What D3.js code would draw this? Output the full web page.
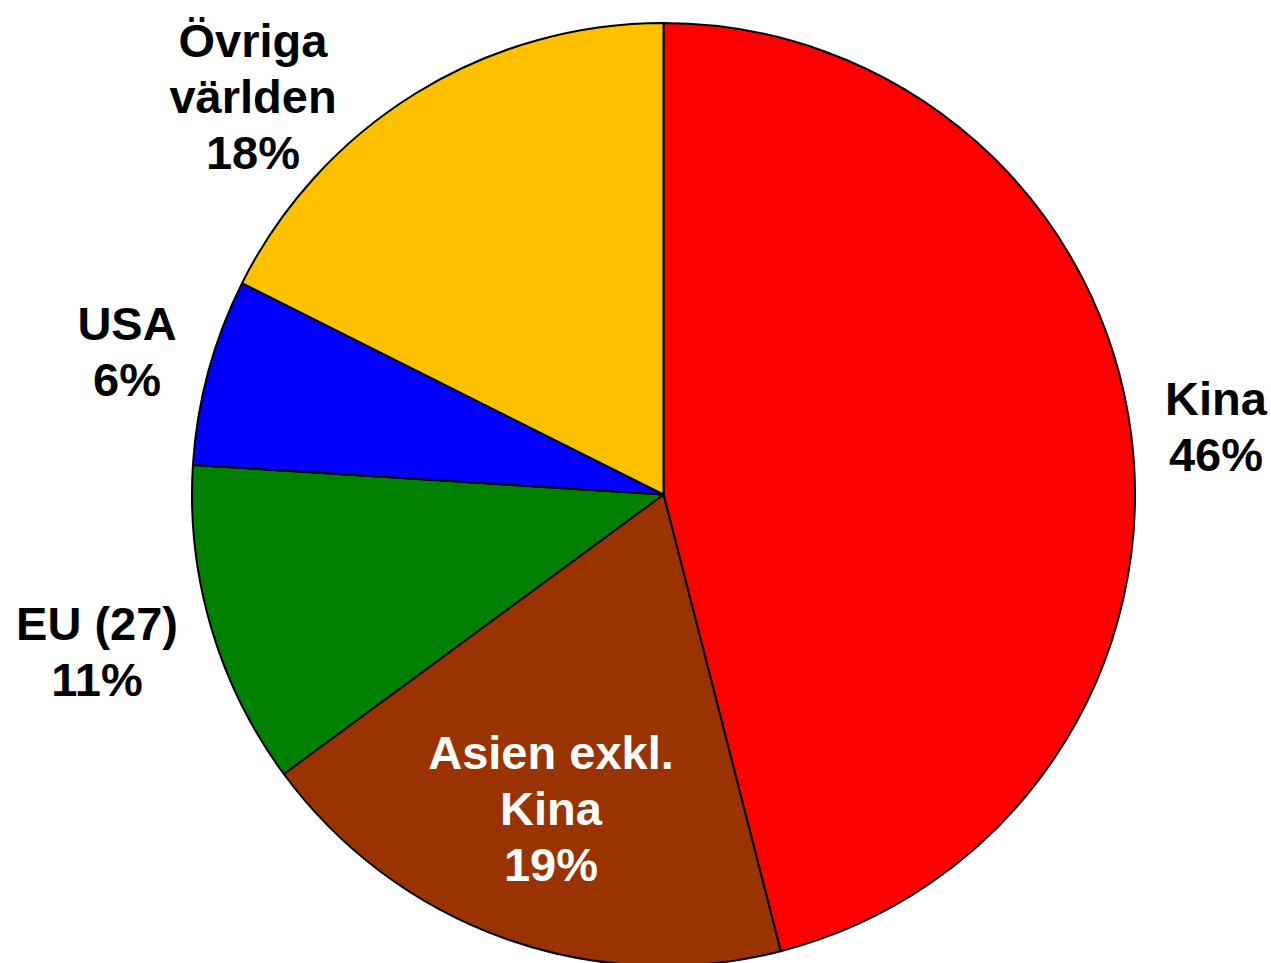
<!DOCTYPE html>
<html>
<head>
<meta charset="utf-8">
<script src="https://cdn.jsdelivr.net/npm/d3@7"></script>
<style>
  html, body { margin: 0; padding: 0; background: #fff; }
  svg { display: block; }
  text { font-family: "Liberation Sans", Arial, sans-serif; font-weight: bold; }
</style>
</head>
<body>
<div id="pie-chart"></div>
<script>
// data
const regions = ["Kina", "Asien exkl. Kina", "EU (27)", "USA", "Övriga världen"];
const shares = [46.0, 18.9, 11.1, 6.4, 17.6];
const pctLabels = ["46%", "19%", "11%", "6%", "18%"];
const labelLines = [["Kina"], ["Asien exkl.", "Kina"], ["EU (27)"], ["USA"], ["Övriga", "världen"]];
const colors = ["#FF0000", "#993300", "#008000", "#0000FF", "#FFC000"];

const W = 1271, H = 963;
const cx = 663.5, cy = 494.5, radius = 471.5;

// label anchor (center x, first baseline y) - hand placed like the original
const labelPos = [
  { x: 1216, y: 415, fill: "#000" },
  { x: 551, y: 769, fill: "#fff" },
  { x: 97, y: 640, fill: "#000" },
  { x: 127, y: 340, fill: "#000" },
  { x: 253, y: 57, fill: "#000" }
];
const lineStep = 56;

const svg = d3.select("#pie-chart")
  .append("svg")
  .attr("width", W)
  .attr("height", H);

const g = svg.append("g")
  .attr("transform", `translate(${cx},${cy})`);

const pie = d3.pie().sort(null).value(d => d);
const arc = d3.arc().innerRadius(0).outerRadius(radius);

g.selectAll("path")
  .data(pie(shares))
  .join("path")
  .attr("d", arc)
  .attr("fill", (d, i) => colors[i])
  .attr("stroke", "#000")
  .attr("stroke-width", 2)
  .attr("stroke-linejoin", "round");

// labels
const labels = svg.selectAll("text.lbl")
  .data(regions)
  .join("text")
  .attr("class", "lbl")
  .attr("text-anchor", "middle")
  .attr("font-size", 47)
  .attr("fill", (d, i) => labelPos[i].fill);

labels.each(function (d, i) {
  const t = d3.select(this);
  const lines = labelLines[i].concat([pctLabels[i]]);
  lines.forEach((ln, k) => {
    t.append("tspan")
      .attr("x", labelPos[i].x)
      .attr("y", labelPos[i].y + k * lineStep)
      .text(ln);
  });
});
</script>
</body>
</html>
